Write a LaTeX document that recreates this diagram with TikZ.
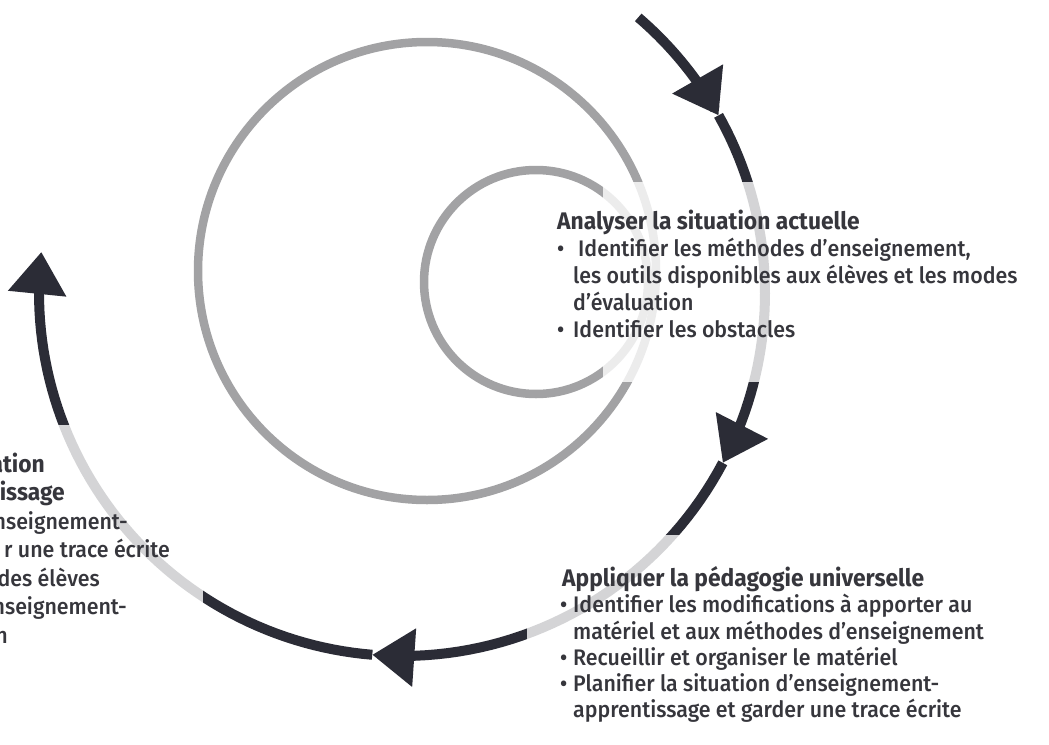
\documentclass[tikz,border=0pt]{standalone}
\usepackage{fontspec}
\setmainfont{Fira Sans}[FakeStretch=0.95]
\IfFontExistsTF{Fira Sans Medium}
  {\newfontfamily\medfont{Fira Sans Medium}[FakeStretch=0.95]}
  {\newfontfamily\medfont{Fira Sans}[FakeStretch=0.95,FakeBold=0.6]}
\usetikzlibrary{arrows.meta}
\definecolor{darkc}{HTML}{2B2C36}
\definecolor{grayc}{HTML}{A2A2A4}
\definecolor{txtc}{HTML}{36363C}
\begin{document}
\begin{tikzpicture}[x=1pt,y=-1pt,
  spiral/.style={draw=darkc, line width=10pt},
  tipped/.style={spiral, -{Triangle[width=56pt,length=42pt]}},
  ring/.style={draw=grayc, line width=8.5pt},
  veil/.style={fill=white, fill opacity=0.8},
  body/.style={anchor=base west, inner sep=0pt, text=txtc, font=\medfont\fontsize{22.5}{27}\selectfont},
  head/.style={body, font=\fontsize{24}{28}\selectfont\bfseries},
  bodyr/.style={body, anchor=base east},
  headr/.style={head, anchor=base east}]
\useasboundingbox (0,0) rectangle (1049,744);
\clip (0,0) rectangle (1049,744);
\fill[white] (0,0) rectangle (1049,744);
% grey rings
\draw[ring] (427,271) circle[radius=229];
\draw[ring] (536,282) circle[radius=112];
% outer spiral with arrows
\draw[tipped] plot[domain=49.4:29.3, samples=20] ({402+363*cos(\x)},{293-363*sin(\x)});
\draw[tipped] plot[domain=29.3:-27.9, samples=40] ({402+363*cos(\x)},{293-363*sin(\x)});
\draw[tipped] plot[domain=-27.9:-94.7, samples=40] ({402+363*cos(\x)},{293-363*sin(\x)});
\draw[tipped] plot[domain=-94.7:-186.5, samples=60] ({402+363*cos(\x)},{293-363*sin(\x)});
% veils behind text blocks
\fill[veil] (603,182) rectangle (1049,382);
\fill[veil] (527,535) rectangle (1049,744);
\fill[veil] (0,425) rectangle (203,744);
% block 1
\node[head] (a0) at (557,229) {Analyser la situation actuelle};
\node[body] (a1b) at (557,256) {•};
\node[body] (a1) at (578,256) {Identifier les méthodes d’enseignement,};
\node[body] (a2) at (573,283) {les outils disponibles aux élèves et les modes};
\node[body] (a3) at (573,310) {d’évaluation};
\node[body] (a4b) at (557,337) {•};
\node[body] (a4) at (573,337) {Identifier les obstacles};
% block 2
\node[head] (b0) at (562,586) {Appliquer la pédagogie universelle};
\node[body] (b1b) at (560,612) {•};
\node[body] (b1) at (573,612) {Identifier les modifications à apporter au};
\node[body] (b2) at (573,639) {matériel et aux méthodes d’enseignement};
\node[body] (b3b) at (560,665) {•};
\node[body] (b3) at (573,665) {Recueillir et organiser le matériel};
\node[body] (b4b) at (560,691) {•};
\node[body] (b4) at (573,691) {Planifier la situation d’enseignement-};
\node[body] (b5) at (573,717) {apprentissage et garder une trace écrite};
% block 3 (cut by the left edge)
\node[headr] (c0) at (45,472) {ation};
\node[headr] (c1) at (65,500) {tissage};
\node[bodyr] (c2) at (128,529) {nseignement-};
\node[bodyr] (c3) at (170,557) {r une trace écrite};
\node[bodyr] (c4) at (100,586) {des élèves};
\node[bodyr] (c5) at (127,614) {nseignement-};
\node[bodyr] (c6) at (8,643) {n};
\end{tikzpicture}
\end{document}
